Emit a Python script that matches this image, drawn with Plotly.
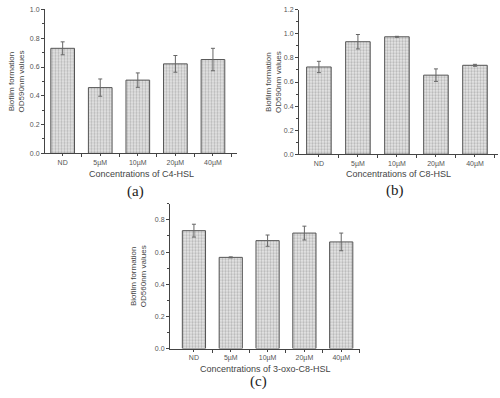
import plotly.graph_objects as go

categories = ["ND", "5µM", "10µM", "20µM", "40µM"]

a_values = [0.73, 0.457, 0.509, 0.622, 0.652]
a_errors = [0.045, 0.06, 0.05, 0.058, 0.078]

b_values = [0.725, 0.935, 0.976, 0.657, 0.739]
b_errors = [0.047, 0.06, 0.004, 0.052, 0.008]

c_values = [0.733, 0.567, 0.671, 0.718, 0.663]
c_errors = [0.04, 0.003, 0.035, 0.043, 0.055]

panels = [
    dict(vals=a_values, errs=a_errors, xd=[0.09, 0.474], yd=[0.618, 0.986],
         xr=[-0.47, 4.64], yr=[0, 1.0], dt=0.2,
         xt="Concentrations of C4-HSL", yt="Biofilm formation<br>OD590nm values",
         ytx=16, cap="(a)", capx=135, capy=191, xtitle_y=173),
    dict(vals=b_values, errs=b_errors, xd=[0.598, 0.996], yd=[0.616, 0.985],
         xr=[-0.51, 4.59], yr=[0, 1.2], dt=0.2,
         xt="Concentrations of C8-HSL", yt="Biofilm formation<br>OD590nm values",
         ytx=273, cap="(b)", capx=395, capy=190, xtitle_y=173),
    dict(vals=c_values, errs=c_errors, xd=[0.34, 0.72], yd=[0.1188, 0.489],
         xr=[-0.65, 4.51], yr=[0, 0.9], dt=0.2,
         xt="Concentrations of 3-oxo-C8-HSL", yt="Biofilm formation<br>OD560nm values",
         ytx=138, cap="(c)", capx=258, capy=384, xtitle_y=372),
]

W, H = 500, 398
fig = go.Figure()
annotations = []
tickfont = dict(family="Liberation Sans, Arial, sans-serif", size=7, color="#555")
for i, p in enumerate(panels, start=1):
    xa = "x" if i == 1 else f"x{i}"
    ya = "y" if i == 1 else f"y{i}"
    n = len(categories)
    fig.add_trace(go.Bar(
        x=list(range(n)), y=p["vals"],
        error_y=dict(type="data", array=p["errs"], color="#666", thickness=1, width=2),
        width=0.63,
        marker=dict(color="#d8d8d8",
                    line=dict(color="#555", width=1),
                    pattern=dict(shape=".", fgcolor="#8a8a8a", bgcolor="#e6e6e6", size=3, solidity=0.45)),
        xaxis=xa, yaxis=ya, showlegend=False, hoverinfo="skip",
    ))
    fig.update_layout(**{
        ("xaxis" if i == 1 else f"xaxis{i}"): dict(
            domain=p["xd"], range=p["xr"], anchor=ya,
            tickmode="array", tickvals=list(range(n)), ticktext=categories,
            showline=True, linecolor="#444", linewidth=1, ticks="outside", ticklen=2,
            tickcolor="#444", showgrid=False, zeroline=False, tickfont=tickfont,
            minor=dict(ticks="outside", ticklen=3, tickcolor="#444",
                       tickmode="array", tickvals=[k + 0.5 for k in range(n)]),
        ),
        ("yaxis" if i == 1 else f"yaxis{i}"): dict(
            domain=p["yd"], range=p["yr"], anchor=xa,
            dtick=p["dt"], tickformat=".1f",
            showline=True, linecolor="#444", linewidth=1, ticks="outside", ticklen=3,
            tickcolor="#444", showgrid=False, zeroline=False, tickfont=tickfont,
            minor=dict(ticks="outside", ticklen=2, tickcolor="#444", dtick=p["dt"] / 2),
        ),
    })
    xc = (p["xd"][0] + p["xd"][1]) / 2
    annotations.append(dict(
        text=p["xt"], x=xc, y=1 - p["xtitle_y"] / H, xref="paper", yref="paper",
        xanchor="center", yanchor="middle",
        showarrow=False, font=dict(family="Liberation Sans, Arial, sans-serif", size=9, color="#444"),
    ))
    yc = (p["yd"][0] + p["yd"][1]) / 2
    annotations.append(dict(
        text=p["yt"], x=p["ytx"] / W, y=yc, xref="paper", yref="paper", textangle=-90,
        xanchor="center", yanchor="middle",
        showarrow=False, font=dict(family="Liberation Sans, Arial, sans-serif", size=8, color="#444"),
    ))
    annotations.append(dict(
        text=p["cap"], x=p["capx"] / W, y=1 - p["capy"] / H, xref="paper", yref="paper",
        xanchor="center", yanchor="middle",
        showarrow=False, font=dict(family="Liberation Serif, Times New Roman, serif", size=15, color="#222"),
    ))

fig.update_layout(
    width=W, height=H, margin=dict(l=0, r=0, t=0, b=0),
    paper_bgcolor="white", plot_bgcolor="white",
    annotations=annotations, bargap=0.3,
)
fig.write_html("out.html", config={"displayModeBar": False},
               post_script="document.body.style.margin='0';")
